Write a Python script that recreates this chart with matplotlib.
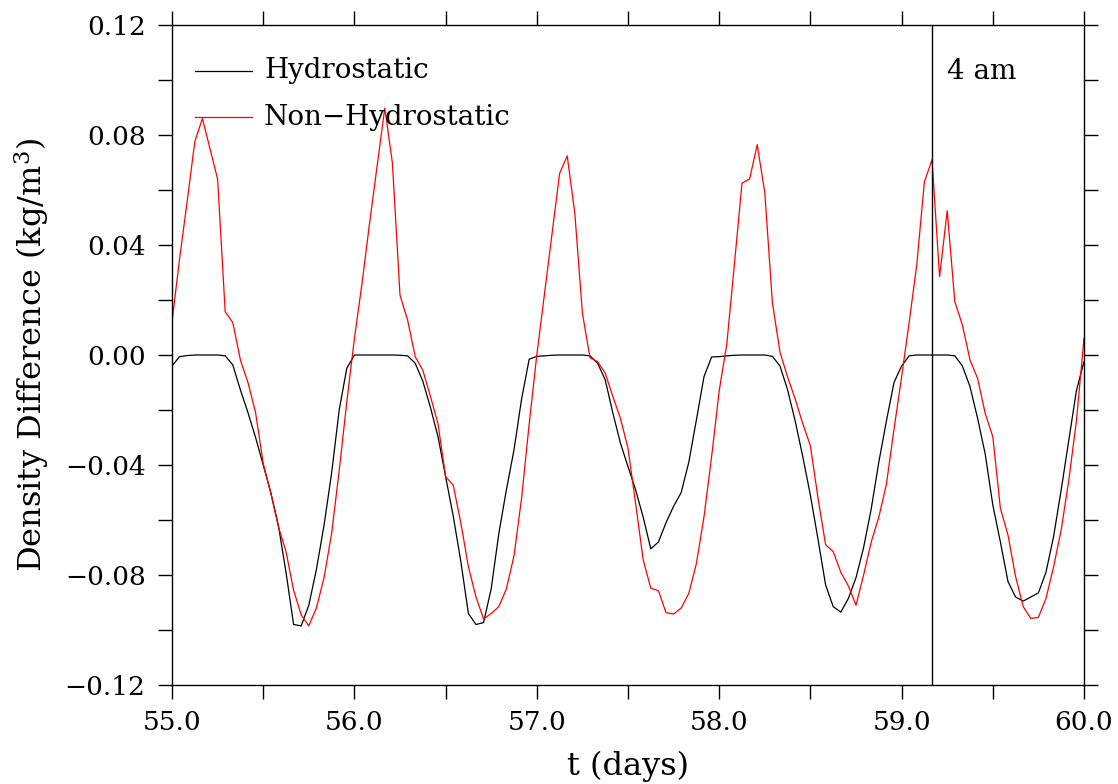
import numpy as np
import matplotlib
matplotlib.use("Agg")
import matplotlib.pyplot as plt
from matplotlib.ticker import MultipleLocator, FuncFormatter

# ---------------- data (hourly samples, t = 55.0 ... 60.0 days) ----------------
t_start = 55.0
samples_per_day = 24

hydro_d55 = [-0.004, -0.0006, -0.0002, 0.0, 0.0, 0.0, 0.0, -0.0003, -0.0036, -0.0127,
             -0.021, -0.030, -0.040, -0.050, -0.062, -0.079, -0.098, -0.0985, -0.091,
             -0.078, -0.062, -0.043, -0.020, -0.0048]
hydro_d56 = [0.0, 0.0, 0.0, 0.0, 0.0, 0.0, -0.0001, -0.0003, -0.003, -0.0095,
             -0.019, -0.0297, -0.0442, -0.0585, -0.075, -0.094, -0.098, -0.0973, -0.085,
             -0.065, -0.049, -0.0345, -0.016, -0.0015]
hydro_d57 = [-0.0005, -0.0003, -0.0001, 0.0, 0.0, 0.0, 0.0, -0.0003, -0.003, -0.009,
             -0.021, -0.032, -0.0406, -0.049, -0.059, -0.0705, -0.068, -0.061, -0.055,
             -0.050, -0.039, -0.0236, -0.0079, -0.0007]
hydro_d58 = [-0.0006, -0.0003, -0.0001, 0.0, 0.0, 0.0, 0.0, -0.0005, -0.004, -0.0127,
             -0.024, -0.037, -0.051, -0.067, -0.0836, -0.0915, -0.0935, -0.0885, -0.081,
             -0.070, -0.056, -0.039, -0.024, -0.010]
hydro_d59 = [-0.004, -0.0003, 0.0, 0.0, 0.0, 0.0, 0.0, -0.0003, -0.004, -0.0115,
             -0.023, -0.036, -0.0545, -0.068, -0.0824, -0.088, -0.0895, -0.088, -0.0865,
             -0.079, -0.066, -0.049, -0.031, -0.013, -0.0024]

nonhydro_d55 = [0.012, 0.035, 0.056, 0.0776, 0.086, 0.075, 0.064, 0.0157, 0.0118, -0.0018,
                -0.010, -0.021, -0.0394, -0.0503, -0.0624, -0.0715, -0.0855, -0.0945, -0.0985,
                -0.092, -0.081, -0.065, -0.042, -0.017]
nonhydro_d56 = [0.006, 0.026, 0.048, 0.069, 0.0898, 0.0698, 0.0218, 0.0127, -0.0006, -0.0055,
                -0.015, -0.025, -0.0442, -0.0473, -0.061, -0.077, -0.088, -0.096, -0.094,
                -0.0915, -0.085, -0.073, -0.052, -0.025]
nonhydro_d57 = [0.0, 0.022, 0.044, 0.066, 0.0724, 0.0516, 0.0152, -0.001, -0.0024, -0.0066,
                -0.015, -0.023, -0.0339, -0.054, -0.0745, -0.0848, -0.0857, -0.0937, -0.0942,
                -0.092, -0.0867, -0.0758, -0.0588, -0.037]
nonhydro_d58 = [-0.013, 0.004, 0.033, 0.0625, 0.064, 0.0765, 0.059, 0.019, 0.001, -0.008,
                -0.016, -0.025, -0.033, -0.052, -0.069, -0.0715, -0.079, -0.084, -0.091,
                -0.080, -0.068, -0.059, -0.047, -0.027]
nonhydro_d59 = [-0.008, 0.012, 0.033, 0.063, 0.071, 0.0285, 0.0525, 0.0194, 0.0109, -0.0018,
                -0.0085, -0.0212, -0.0297, -0.0557, -0.0655, -0.0806, -0.0915, -0.0958, -0.0954,
                -0.0885, -0.077, -0.0636, -0.0455, -0.024, 0.006]

series_labels = ["Hydrostatic", "Non\u2212Hydrostatic"]
marker_time = 59.0 + 4.0 / 24.0     # 4 am on day 59
marker_label = "4 am"
x_label = "t (days)"
y_label = "Density Difference (kg/m$^3$)"

hydro = np.array(hydro_d55 + hydro_d56 + hydro_d57 + hydro_d58 + hydro_d59)
nonhydro = np.array(nonhydro_d55 + nonhydro_d56 + nonhydro_d57 + nonhydro_d58 + nonhydro_d59)
t = t_start + np.arange(len(hydro)) / samples_per_day

# ---------------- figure ----------------
plt.rcParams["font.family"] = ["DejaVu Serif"]
plt.rcParams["mathtext.fontset"] = "dejavuserif"

fig = plt.figure(figsize=(11.18, 7.84), dpi=100)
ax = fig.add_axes([172 / 1118, 1 - 685 / 784, 912 / 1118, 660 / 784])

ax.plot(t, hydro, color="black", lw=0.9)
ax.plot(t, nonhydro, color="#ff0000", lw=0.9)
ax.axvline(marker_time, color="black", lw=1.0)

ax.set_xlim(55.0, 60.0)
ax.set_ylim(-0.12, 0.12)

ax.xaxis.set_major_locator(MultipleLocator(1.0))
ax.xaxis.set_minor_locator(MultipleLocator(0.5))
ax.yaxis.set_major_locator(MultipleLocator(0.04))
ax.yaxis.set_minor_locator(MultipleLocator(0.02))
ax.xaxis.set_major_formatter(FuncFormatter(lambda v, p: f"{v:.1f}"))
ax.yaxis.set_major_formatter(
    FuncFormatter(lambda v, p: f"{v:.2f}".replace("-", "\u2212") if abs(v) > 1e-9 else "0.00"))

ax.tick_params(which="both", direction="out", length=10, width=1.0,
               top=True, right=True, bottom=True, left=True)
ax.tick_params(which="major", labelsize=19)
ax.tick_params(axis="x", which="major", pad=8)
ax.tick_params(axis="y", which="major", pad=9)
for sp in ax.spines.values():
    sp.set_linewidth(1.0)

ax.set_xlabel(x_label, fontsize=23, va="center")
ax.xaxis.set_label_coords(0.5, -0.124)
ax.set_ylabel(y_label, fontsize=23, va="center")
ax.yaxis.set_label_coords(-0.154, 0.5)

# legend drawn manually (line + text) in axes coordinates
leg_x0, leg_x1, leg_tx = 0.0252, 0.0877, 0.1009
leg_rows = [0.9308, 0.8606]
for lab, col, yy in zip(series_labels, ["black", "#ff0000"], leg_rows):
    ax.plot([leg_x0, leg_x1], [yy, yy], color=col, lw=0.9, transform=ax.transAxes)
    ax.text(leg_tx, yy, lab, transform=ax.transAxes, fontsize=20,
            ha="left", va="center")

ax.text(0.8498, 0.9292, marker_label, transform=ax.transAxes, fontsize=20,
        ha="left", va="center")

fig.savefig("out.png", dpi=100)
